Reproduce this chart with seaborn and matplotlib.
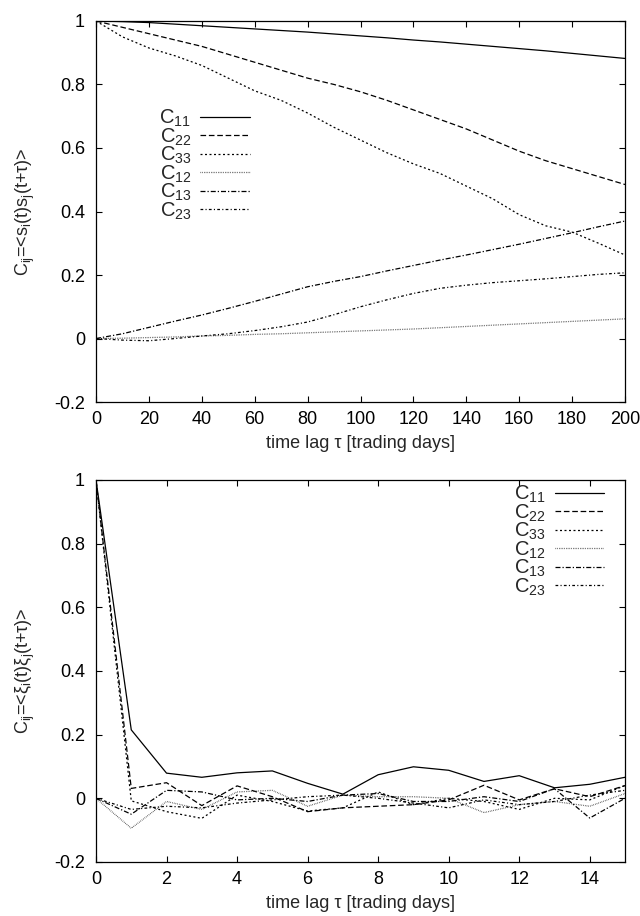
import numpy as np
import pandas as pd
import matplotlib
matplotlib.use("Agg")
import matplotlib.pyplot as plt
import seaborn as sns

# ---------------- data: top panel (s) ----------------
tau_top = [0, 10, 20, 30, 40, 50, 60, 70, 80, 90, 100, 110, 120, 130, 140, 150, 160, 170, 180, 190, 200]
top_C11 = [1.0, .998, .995, .990, .985, .980, .975, .970, .965, .959, .953, .947, .940, .934, .927, .920, .913, .906, .898, .890, .882]
top_C22 = [1.0, .98, .96, .94, .92, .895, .87, .845, .82, .80, .777, .75, .72, .69, .66, .625, .59, .56, .535, .51, .485]
top_C33 = [1.0, .95, .915, .89, .86, .82, .78, .75, .71, .665, .625, .585, .55, .52, .48, .44, .39, .355, .335, .30, .263]
top_C12 = [0.0, .001, .003, .005, .008, .010, .013, .015, .018, .021, .024, .027, .030, .034, .038, .042, .046, .050, .054, .058, .062]
top_C13 = [0.0, .015, .035, .055, .074, .095, .117, .140, .163, .180, .195, .213, .230, .247, .263, .280, .297, .315, .333, .352, .370]
top_C23 = [0.0, -.005, -.007, 0.0, .008, .015, .025, .037, .052, .075, .100, .122, .142, .158, .168, .176, .182, .188, .195, .202, .207]

# ---------------- data: bottom panel (xi) ----------------
tau_bot = list(range(16))
bot_C11 = [1.0, .215, .079, .066, .080, .086, .047, .013, .074, .099, .088, .053, .071, .033, .044, .066]
bot_C22 = [1.0, .031, .049, -.023, .039, .005, -.042, -.030, -.025, -.020, -.005, .041, -.005, .030, .005, .040]
bot_C33 = [1.0, -.008, -.042, -.063, .010, -.010, -.040, -.030, .020, -.020, .000, -.010, -.035, .000, -.005, .040]
bot_C12 = [0.0, -.094, -.010, -.035, .020, .025, -.025, .010, .005, .005, .000, -.045, -.020, -.010, -.025, .015]
bot_C13 = [0.0, -.050, .025, .020, -.005, .000, -.010, .010, .015, -.010, -.010, .005, -.010, .030, -.062, .000]
bot_C23 = [0.0, -.035, -.025, -.030, -.015, -.005, .005, .010, .000, -.015, -.030, -.005, -.020, -.010, .010, .025]

labels = ["C$_{11}$", "C$_{22}$", "C$_{33}$", "C$_{12}$", "C$_{13}$", "C$_{23}$"]
ytick_vals = [-0.2, 0, 0.2, 0.4, 0.6, 0.8, 1]
ytick_labels = ["-0.2", "0", "0.2", "0.4", "0.6", "0.8", "1"]
xtick_top = [0, 20, 40, 60, 80, 100, 120, 140, 160, 180, 200]
xtick_bot = [0, 2, 4, 6, 8, 10, 12, 14]

styles = [
    dict(color="black", linestyle="-"),
    dict(color="black", linestyle=(0, (4.5, 2.2))),
    dict(color="black", linestyle=(0, (1.6, 2.0))),
    dict(color="#333333", linestyle=(0, (0.5, 0.9))),
    dict(color="black", linestyle=(0, (4.0, 1.6, 1.0, 1.6))),
    dict(color="black", linestyle=(0, (2.2, 1.8, 0.9, 1.8))),
]

sns.set_style("ticks")
plt.rcParams["font.family"] = ["Liberation Sans", "DejaVu Sans"]
plt.rcParams["mathtext.fontset"] = "custom"
plt.rcParams["mathtext.rm"] = "Liberation Sans"
plt.rcParams["mathtext.it"] = "Liberation Sans"
plt.rcParams["mathtext.default"] = "regular"

fig = plt.figure(figsize=(6.4, 9.16), dpi=100)
ax1 = fig.add_axes([0.15, 0.5611, 0.8266, 0.4160])
ax2 = fig.add_axes([0.15, 0.0590, 0.8266, 0.4170])

FS = 13
LFS = 14.5

def style_axes(ax):
    for s in ax.spines.values():
        s.set_visible(True)
        s.set_linewidth(0.9)
        s.set_color("black")
    ax.tick_params(direction="in", length=4, width=0.8, top=True, right=True,
                   labelsize=FS, colors="black")
    ax.tick_params(axis="y", pad=8)
    ax.tick_params(axis="x", pad=6.5)
    ax.set_ylim(-0.2, 1.0)
    ax.set_yticks(ytick_vals)
    ax.set_yticklabels(ytick_labels)

leg_kw = dict(frameon=False, markerfirst=False, fontsize=LFS, handlelength=2.45,
              handletextpad=0.45, labelspacing=-0.14, borderpad=0, borderaxespad=0)

top_series = [top_C11, top_C22, top_C33, top_C12, top_C13, top_C23]
for lab, ys, st in zip(labels, top_series, styles):
    sns.lineplot(x=tau_top, y=ys, ax=ax1, label=lab, linewidth=0.9, **st)
style_axes(ax1)
ax1.set_xlim(0, 200)
ax1.set_xticks(xtick_top)
ax1.set_xticklabels([str(v) for v in xtick_top])
ax1.set_xlabel("time lag τ [trading days]", fontsize=FS, labelpad=5)
ax1.set_ylabel("C$_{ij}$=<s$_i$(t)s$_j$(t+τ)>", fontsize=FS, labelpad=12)
ax1.legend(loc="upper left", bbox_to_anchor=(0.12, 0.772), **leg_kw)

bot_series = [bot_C11, bot_C22, bot_C33, bot_C12, bot_C13, bot_C23]
for lab, ys, st in zip(labels, bot_series, styles):
    sns.lineplot(x=tau_bot, y=ys, ax=ax2, label=lab, linewidth=0.9, **st)
style_axes(ax2)
ax2.set_xlim(0, 15)
ax2.set_xticks(xtick_bot)
ax2.set_xticklabels([str(v) for v in xtick_bot])
ax2.set_xlabel("time lag τ [trading days]", fontsize=FS, labelpad=5)
ax2.set_ylabel("C$_{ij}$=<ξ$_i$(t)ξ$_j$(t+τ)>", fontsize=FS, labelpad=12)
ax2.legend(loc="upper left", bbox_to_anchor=(0.79, 0.99), **leg_kw)

fig.savefig("out.png", dpi=100)
